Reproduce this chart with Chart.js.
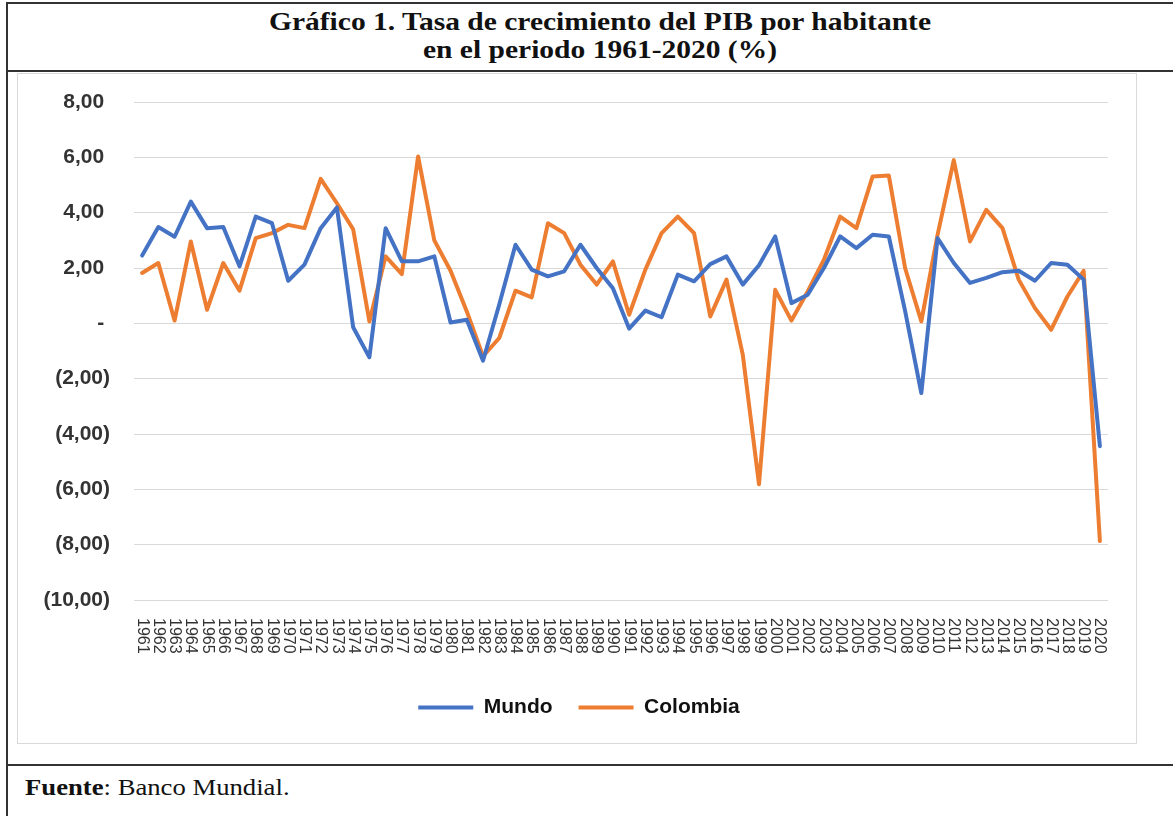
<!DOCTYPE html>
<html lang="es">
<head>
<meta charset="UTF-8">
<title>Tasa de crecimiento del PIB por habitante</title>
<style>
  body { margin: 0; width: 1173px; height: 816px; overflow: hidden; background: #fff; position: relative; }
  .frame { position: absolute; left: 6px; top: 2px; width: 1200px; height: 900px; border-left: 2px solid #333; border-top: 2px solid #333; }
  .rule { position: absolute; left: 6px; width: 1180px; height: 2px; background: #333; }
  .title { position: absolute; left: 0; top: 8px; width: 1200px; text-align: center; font: bold 26px "Liberation Serif", serif; line-height: 28px; color: #111; transform: scaleX(1.135); }
  .box { position: absolute; left: 17px; top: 73px; width: 1118px; height: 669px; border: 1px solid #d9d9d9; }
  .source { position: absolute; left: 25px; top: 775px; font: 23px "Liberation Serif", serif; color: #111; transform: scaleX(1.16); transform-origin: left center; }
</style>
</head>
<body>
<div class="frame"></div>
<div class="title">Gráfico 1. Tasa de crecimiento del PIB por habitante<br>en el periodo 1961-2020 (%)</div>
<div class="rule" style="top: 70px"></div>
<div class="box"><canvas id="chart"></canvas></div>
<div class="rule" style="top: 764px"></div>
<div class="source"><b>Fuente</b>: Banco Mundial.</div>

<script src="https://cdn.jsdelivr.net/npm/chart.js"></script>
<script>
const years = ["1961","1962","1963","1964","1965","1966","1967","1968","1969","1970",
  "1971","1972","1973","1974","1975","1976","1977","1978","1979","1980",
  "1981","1982","1983","1984","1985","1986","1987","1988","1989","1990",
  "1991","1992","1993","1994","1995","1996","1997","1998","1999","2000",
  "2001","2002","2003","2004","2005","2006","2007","2008","2009","2010",
  "2011","2012","2013","2014","2015","2016","2017","2018","2019","2020"];

const mundo = [2.45, 3.48, 3.13, 4.40, 3.44, 3.48, 2.06, 3.86, 3.62, 1.54,
  2.12, 3.44, 4.19, -0.14, -1.23, 3.44, 2.24, 2.24, 2.42, 0.03,
  0.13, -1.35, 0.68, 2.84, 1.94, 1.70, 1.88, 2.84, 2.00, 1.27,
  -0.19, 0.46, 0.22, 1.76, 1.52, 2.14, 2.42, 1.40, 2.10, 3.14,
  0.73, 1.03, 2.00, 3.14, 2.72, 3.20, 3.14, 0.45, -2.52, 3.08,
  2.18, 1.46, 1.64, 1.85, 1.90, 1.54, 2.18, 2.12, 1.58, -4.44];

const colombia = [1.82, 2.18, 0.10, 2.96, 0.49, 2.18, 1.18, 3.08, 3.26, 3.56,
  3.44, 5.22, 4.34, 3.40, 0.07, 2.42, 1.78, 6.03, 3.00, 1.90,
  0.43, -1.19, -0.53, 1.18, 0.94, 3.62, 3.26, 2.12, 1.40, 2.24,
  0.31, 1.94, 3.26, 3.86, 3.26, 0.25, 1.58, -1.13, -5.82, 1.21,
  0.10, 1.15, 2.30, 3.86, 3.44, 5.31, 5.34, 2.00, 0.07, 3.20,
  5.90, 2.96, 4.10, 3.44, 1.58, 0.55, -0.23, 0.97, 1.90, -7.87];

const yMin = -10;
const yMax = 8;
const yStep = 2;

// excel-style accounting labels: 2,00 / - / (2,00)
function accounting(v) {
  if (v === 0) return "- ";
  const s = Math.abs(v).toFixed(2).replace(".", ",");
  return v < 0 ? "(" + s + ")" : s + " ";
}

// years are written top-to-bottom under the axis
const yearLabels = {
  id: "yearLabels",
  afterDraw(chart) {
    const xs = chart.scales.x;
    const ctx = chart.ctx;
    ctx.save();
    ctx.font = '16px "Liberation Sans"';
    ctx.fillStyle = "#333";
    ctx.textAlign = "left";
    ctx.textBaseline = "middle";
    xs.ticks.forEach((t, i) => {
      ctx.save();
      ctx.translate(xs.getPixelForTick(i), xs.top + 18);
      ctx.rotate(Math.PI / 2);
      ctx.fillText(years[i], 0, 0);
      ctx.restore();
    });
    ctx.restore();
  },
};

// legend sits a bit right of the canvas centre in the original
const legendShift = {
  id: "legendShift",
  afterLayout(chart) {
    chart.legend.left += 16;
    chart.legend.right += 16;
  },
};

const ctx = document.getElementById("chart").getContext("2d");
new Chart(ctx, {
  type: "line",
  data: {
    labels: years,
    datasets: [
      { label: "Mundo", data: mundo, borderColor: "#4472C4", backgroundColor: "#4472C4" },
      { label: "Colombia", data: colombia, borderColor: "#ED7D31", backgroundColor: "#ED7D31" },
    ],
  },
  options: {
    responsive: true,
    maintainAspectRatio: false,
    animation: false,
    layout: { padding: { top: 28, right: 28, left: 0, bottom: 15 } },
    elements: {
      line: { borderWidth: 4, tension: 0, borderCapStyle: "round", borderJoinStyle: "round" },
      point: { radius: 0 },
    },
    plugins: {
      tooltip: { enabled: false },
      legend: {
        position: "bottom",
        labels: {
          color: "#111",
          font: { family: "Liberation Sans", size: 21, weight: "bold" },
          boxWidth: 55,
          boxHeight: 4,
          padding: 26,
          generateLabels(chart) {
            return Chart.defaults.plugins.legend.labels.generateLabels(chart).map((l) => {
              l.lineWidth = 0;
              return l;
            });
          },
        },
      },
    },
    scales: {
      x: {
        offset: true,
        grid: { display: false },
        border: { display: false },
        ticks: { display: false },
        afterFit(scale) { scale.height = 71; },
      },
      y: {
        min: yMin,
        max: yMax,
        grid: { color: "#d9d9d9", lineWidth: 1, drawTicks: false },
        border: { display: false },
        ticks: {
          stepSize: yStep,
          padding: 24,
          color: "#333",
          font: { family: "Liberation Sans", size: 21, weight: "bold" },
          callback: (v) => accounting(v),
        },
        afterFit(scale) {
          scale.width = 116;
          scale.paddingTop = 0;
          scale.paddingBottom = 0;
        },
      },
    },
  },
  plugins: [yearLabels, legendShift],
});
</script>
</body>
</html>
